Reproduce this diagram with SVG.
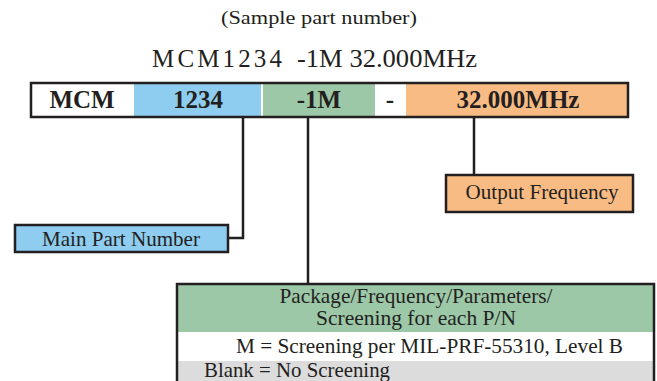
<svg xmlns="http://www.w3.org/2000/svg" width="657" height="381" viewBox="0 0 657 381" font-family="Liberation Serif, Times New Roman, serif">
<style>
text{fill:#231f20}
.b{font-weight:bold;font-size:25px}
.r{font-size:21px}
.box{stroke:#231f20;stroke-width:2.5}
.wire{fill:none;stroke:#231f20;stroke-width:2.5}
</style>
<rect width="657" height="381" fill="#fff"/>
<text x="319" y="24" font-size="19" text-anchor="middle" textLength="196" lengthAdjust="spacingAndGlyphs">(Sample part number)</text>
<text x="152" y="67" font-size="25" textLength="130" lengthAdjust="spacing">MCM1234</text>
<text x="297" y="67" font-size="25" textLength="180" lengthAdjust="spacingAndGlyphs">-1M 32.000MHz</text>
<g id="bar">
<rect x="31" y="83" width="597" height="34" fill="#fff"/>
<rect x="134" y="83" width="127" height="34" fill="#8ecdf0"/>
<rect x="263" y="83" width="112" height="34" fill="#9cc8a8"/>
<rect x="406" y="83" width="222" height="34" fill="#f9bb84"/>
<rect x="31" y="83" width="597" height="34" fill="none" class="box"/>
<text class="b" x="82" y="108" text-anchor="middle">MCM</text>
<text class="b" x="198" y="108" text-anchor="middle">1234</text>
<text class="b" x="319" y="108" text-anchor="middle">-1M</text>
<text class="b" x="390" y="108" text-anchor="middle">-</text>
<text class="b" x="518" y="108" text-anchor="middle">32.000MHz</text>
</g>
<g id="connectors">
<polyline class="wire" points="228,238 243,238 243,117"/>
<line class="wire" x1="308" y1="117" x2="308" y2="284"/>
<line class="wire" x1="474" y1="117" x2="474" y2="175"/>
</g>
<g id="main-part-number">
<rect x="15" y="225" width="213" height="27" fill="#8ecdf0" class="box"/>
<text class="r" x="121" y="246" text-anchor="middle" textLength="158" lengthAdjust="spacingAndGlyphs">Main Part Number</text>
</g>
<g id="output-frequency">
<rect x="446" y="175" width="187" height="37" fill="#f9bb84" class="box"/>
<text class="r" x="542" y="199" text-anchor="middle" textLength="153" lengthAdjust="spacingAndGlyphs">Output Frequency</text>
</g>
<g id="screening">
<rect x="177" y="284" width="477" height="48" fill="#9cc8a8"/>
<rect x="177" y="332" width="477" height="29" fill="#fff"/>
<rect x="177" y="361" width="477" height="30" fill="#dcdcdd"/>
<rect x="177" y="284" width="477" height="110" fill="none" class="box"/>
<text class="r" x="416" y="303" text-anchor="middle" textLength="273" lengthAdjust="spacingAndGlyphs">Package/Frequency/Parameters/</text>
<text class="r" x="416" y="325" text-anchor="middle" textLength="200" lengthAdjust="spacingAndGlyphs">Screening for each P/N</text>
<text class="r" x="236" y="353" textLength="387" lengthAdjust="spacingAndGlyphs">M = Screening per MIL-PRF-55310, Level B</text>
<text class="r" x="204" y="377" textLength="186" lengthAdjust="spacingAndGlyphs">Blank = No Screening</text>
</g>
</svg>
